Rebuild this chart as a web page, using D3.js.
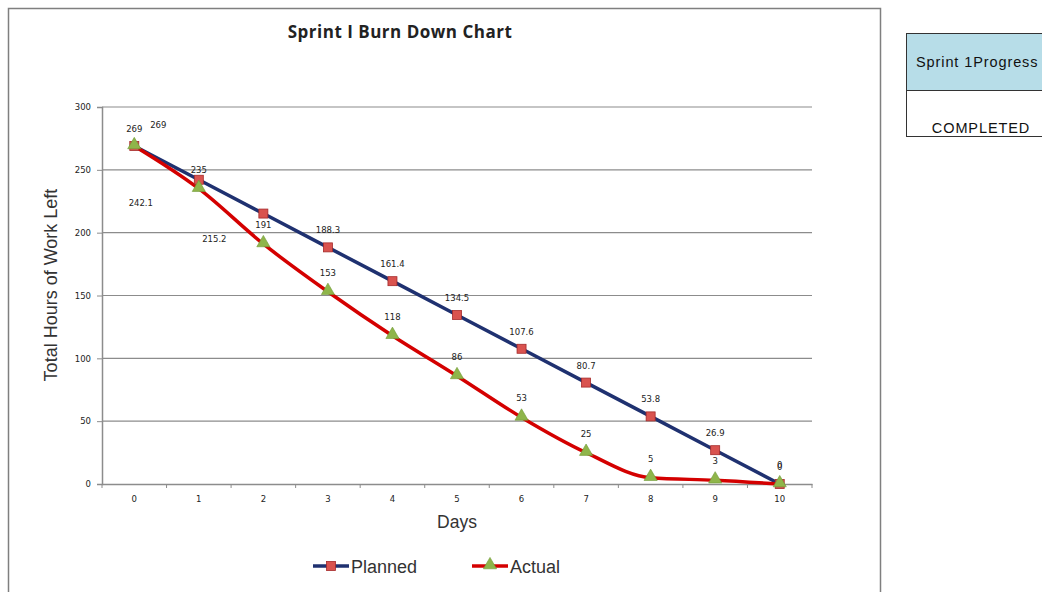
<!DOCTYPE html>
<html>
<head>
<meta charset="utf-8">
<script src="https://cdn.jsdelivr.net/npm/d3@7"></script>
<style>
  body { margin: 0; background: #fff; }
  svg { display: block; }
</style>
</head>
<body>
<svg id="chart" width="1042" height="592"></svg>
<script>
// values
const days = [0, 1, 2, 3, 4, 5, 6, 7, 8, 9, 10]
const planned = [269, 242.1, 215.2, 188.3, 161.4, 134.5, 107.6, 80.7, 53.8, 26.9, 0]
const actual = [269, 235, 191, 153, 118, 86, 53, 25, 5, 3, 0]
const yTicks = [0, 50, 100, 150, 200, 250, 300]

// plot area
const margin = { top: 107, right: 230, bottom: 108, left: 102 }
const width = 1042 - margin.left - margin.right
const height = 592 - margin.top - margin.bottom

const svg = d3.select("#chart")

// outer chart frame (bottom runs off the page)
svg.append("rect")
    .attr("x", 8.5).attr("y", 8.5)
    .attr("width", 872).attr("height", 600)
    .attr("fill", "#fff")
    .attr("stroke", "#7f7f7f")
    .attr("stroke-width", 1.5)

svg.append("text")
    .attr("x", 400).attr("y", 38)
    .attr("text-anchor", "middle")
    .style("font-family", "'Open Sans', sans-serif")
    .style("font-weight", 700)
    .style("font-size", "17px")
    .attr("letter-spacing", "0.5")
    .attr("fill", "#222")
    .text("Sprint I Burn Down Chart")

const g = svg.append("g")
    .attr("transform", "translate(" + margin.left + "," + margin.top + ")")

const x = d3.scaleBand()
    .domain(days)
    .range([0, width])

const y = d3.scaleLinear()
    .domain([0, 300])
    .range([height, 0])

const cx = d => x(d) + x.bandwidth() / 2

// gridlines
g.append("g")
    .selectAll("line")
    .data(yTicks.filter(t => t > 0))
    .enter().append("line")
    .attr("x1", 0).attr("x2", width)
    .attr("y1", d => y(d)).attr("y2", d => y(d))
    .attr("stroke", "#8c8c8c")
    .attr("stroke-width", 1.2)

// y axis
const yAxis = g.append("g")
    .call(d3.axisLeft(y).tickValues(yTicks).tickSize(5).tickPadding(6))
yAxis.select(".domain").attr("stroke", "#8c8c8c").attr("stroke-width", 1.5)
yAxis.selectAll(".tick line").attr("stroke", "#8c8c8c")
yAxis.selectAll("text")
    .style("font-family", "'DejaVu Sans', sans-serif")
    .style("font-size", "8.5px")
    .attr("fill", "#222")

// x axis, ticks between categories
const xAxis = g.append("g")
    .attr("transform", "translate(0," + height + ")")
    .call(d3.axisBottom(x).tickSize(0).tickPadding(12))
xAxis.select(".domain").attr("stroke", "#8c8c8c").attr("stroke-width", 1.5)
xAxis.selectAll("text")
    .style("font-family", "'DejaVu Sans', sans-serif")
    .style("font-size", "8.5px")
    .attr("fill", "#222")
xAxis.append("g")
    .selectAll("line")
    .data(d3.range(days.length + 1))
    .enter().append("line")
    .attr("x1", i => i * x.step()).attr("x2", i => i * x.step())
    .attr("y1", 0).attr("y2", 4)
    .attr("stroke", "#8c8c8c")

// axis titles
svg.append("text")
    .attr("transform", "translate(57,285) rotate(-90)")
    .attr("text-anchor", "middle")
    .style("font-family", "'Liberation Sans', Arial, sans-serif")
    .style("font-size", "18px")
    .attr("fill", "#333")
    .text("Total Hours of Work Left")

svg.append("text")
    .attr("x", margin.left + width / 2).attr("y", 528)
    .attr("text-anchor", "middle")
    .style("font-family", "'Liberation Sans', Arial, sans-serif")
    .style("font-size", "17.5px")
    .attr("fill", "#333")
    .text("Days")

// lines
const planLine = d3.line()
    .x((d, i) => cx(days[i]))
    .y(d => y(d))

const actLine = d3.line()
    .x((d, i) => cx(days[i]))
    .y(d => y(d))
    .curve(d3.curveMonotoneX)

g.append("path")
    .datum(planned)
    .attr("fill", "none")
    .attr("stroke", "#1f3170")
    .attr("stroke-width", 3.5)
    .attr("d", planLine)

g.append("path")
    .datum(actual)
    .attr("fill", "none")
    .attr("stroke", "#d40000")
    .attr("stroke-width", 3.5)
    .attr("d", actLine)

const triangle = d3.symbol().type(d3.symbolTriangle).size(75)

function square(sel) {
    sel.attr("width", 9).attr("height", 9)
        .attr("fill", "#d9534f")
        .attr("stroke", "#a52a2a")
        .attr("stroke-width", 0.8)
}

function tri(sel) {
    sel.attr("d", triangle)
        .attr("fill", "#8fb54a")
        .attr("stroke", "#6f9a35")
        .attr("stroke-width", 0.6)
}

// planned markers
g.append("g")
    .selectAll("rect")
    .data(planned)
    .enter().append("rect")
    .attr("x", (d, i) => cx(days[i]) - 4.5)
    .attr("y", d => y(d) - 4.5)
    .call(square)

// actual markers
g.append("g")
    .selectAll("path")
    .data(actual)
    .enter().append("path")
    .attr("transform", (d, i) => "translate(" + cx(days[i]) + "," + (y(d) - 1) + ")")
    .call(tri)

// data labels, with the odd nudges the original chart had
const planNudge = { 1: [-58, 40], 2: [-49, 42] }
const actNudge = { 0: [24, -2] }

function labels(values, nudge, dy) {
    g.append("g")
        .selectAll("text")
        .data(values)
        .enter().append("text")
        .attr("x", (d, i) => cx(days[i]) + (nudge[i] ? nudge[i][0] : 0))
        .attr("y", (d, i) => y(d) + dy + (nudge[i] ? nudge[i][1] : 0))
        .attr("text-anchor", "middle")
        .style("font-family", "'DejaVu Sans', sans-serif")
        .style("font-size", "8.5px")
        .attr("fill", "#222")
        .text(d => d)
}
labels(planned, planNudge, -14)
labels(actual, actNudge, -16)

// legend
const legend = svg.append("g").attr("transform", "translate(0,566)")
const items = [
    { name: "Planned", color: "#1f3170", x: 313, mark: "sq" },
    { name: "Actual", color: "#d40000", x: 472, mark: "tri" }
]
items.forEach(it => {
    legend.append("line")
        .attr("x1", it.x).attr("x2", it.x + 36)
        .attr("y1", 0).attr("y2", 0)
        .attr("stroke", it.color)
        .attr("stroke-width", 3.5)
    if (it.mark === "sq") {
        legend.append("rect")
            .attr("x", it.x + 18 - 4.5).attr("y", -4.5)
            .call(square)
    } else {
        legend.append("path")
            .attr("transform", "translate(" + (it.x + 18) + ",-1)")
            .call(tri)
    }
    legend.append("text")
        .attr("x", it.x + 38).attr("y", 6.5)
        .style("font-family", "'Liberation Sans', Arial, sans-serif")
        .style("font-size", "18px")
        .attr("fill", "#333")
        .text(it.name)
})

// progress box on the right
const box = svg.append("g")
box.append("rect")
    .attr("x", 906.5).attr("y", 33.5)
    .attr("width", 150).attr("height", 57)
    .attr("fill", "#b7dde8")
    .attr("stroke", "#333")
box.append("rect")
    .attr("x", 906.5).attr("y", 90.5)
    .attr("width", 150).attr("height", 46)
    .attr("fill", "#fff")
    .attr("stroke", "#333")
box.append("text")
    .attr("x", 916).attr("y", 67)
    .style("font-family", "'Liberation Sans', Arial, sans-serif")
    .style("font-size", "14.5px")
    .attr("letter-spacing", "0.9")
    .attr("fill", "#111")
    .text("Sprint 1Progress")
box.append("text")
    .attr("x", 981).attr("y", 133)
    .attr("text-anchor", "middle")
    .style("font-family", "'Liberation Sans', Arial, sans-serif")
    .style("font-size", "14.5px")
    .attr("letter-spacing", "0.9")
    .attr("fill", "#111")
    .text("COMPLETED")
</script>
</body>
</html>
